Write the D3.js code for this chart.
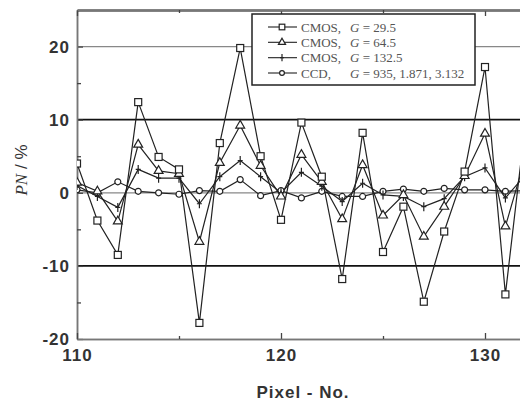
<!DOCTYPE html>
<html>
<head>
<meta charset="utf-8">
<script src="https://cdn.jsdelivr.net/npm/d3@7"></script>
<style>
  body { margin: 0; background: #fff; }
  .tick-label { font-family: "Liberation Sans", Arial, sans-serif; font-weight: bold; font-size: 17px; fill: #333; letter-spacing: 1px; }
  .legend-text { font-family: "Liberation Serif", "Times New Roman", serif; font-size: 13px; fill: #555; }
</style>
</head>
<body>
<div id="chart"></div>
<script>
// pixel numbers (x values)
var pixels = [110, 111, 112, 113, 114, 115, 116, 117, 118, 119, 120, 121,
  122, 123, 124, 125, 126, 127, 128, 129, 130, 131, 132];

// PN in % for each sensor / gain
var cmos29 = [4.0, -3.8, -8.5, 12.4, 4.9, 3.2, -17.8, 6.8, 19.8, 5.0, -3.7, 9.6,
  2.2, -11.8, 8.2, -8.1, -1.9, -14.9, -5.3, 2.9, 17.2, -13.9, 10.0];
var cmos64 = [1.4, 0.2, -3.9, 6.6, 3.0, 2.6, -6.7, 4.1, 9.2, 3.7, -0.5, 5.2,
  1.5, -3.6, 3.8, -3.1, -0.3, -6.0, -1.9, 2.3, 8.1, -4.6, 5.0];
var cmos132 = [1.0, -0.5, -2.0, 3.2, 2.0, 2.0, -1.5, 2.2, 4.4, 2.2, 0.0, 2.8,
  0.9, -1.2, 1.3, -0.3, -0.5, -1.9, -0.8, 2.2, 3.4, -0.7, 2.5];
var ccd = [0.4, 0.0, 1.5, 0.2, 0.0, -0.2, 0.3, 0.2, 1.8, -0.4, 0.3, -0.7,
  0.2, -0.5, -0.5, 0.2, 0.5, 0.2, 0.6, 0.4, 0.4, 0.2, 0.3];

// legend texts
var legendNames = ["CMOS,", "CMOS,", "CMOS,", "CCD,"];
var legendGains = ["29.5", "64.5", "132.5", "935, 1.871, 3.132"];
var markerTypes = ["square", "triangle", "plus", "circle"];

// tick values
var xTicks = [110, 120, 130];
var xMinor = [115, 125];
var yTicks = [-20, -10, 0, 10, 20];
var yMinor = [-15, -5, 5, 15];

var svgWidth = 520;
var svgHeight = 403;

var svg = d3.select("#chart")
  .append("svg")
  .attr("width", svgWidth)
  .attr("height", svgHeight);

// scales (the right side of the plot runs past the picture edge)
var x = d3.scaleLinear().domain([110, 132]).range([77, 525.8]);
var y = d3.scaleLinear().domain([-20, 25]).range([339, 10]);

// plain hyphen minus like the original
var plainFormat = d => String(d);

// horizontal grid lines
svg.append("g")
  .selectAll("line")
  .data([20, 10, 0, -10])
  .enter()
  .append("line")
  .attr("x1", x(110))
  .attr("x2", svgWidth)
  .attr("y1", d => y(d))
  .attr("y2", d => y(d))
  .attr("stroke", d => (d === 10 || d === -10) ? "#111" : "#888")
  .attr("stroke-width", d => (d === 10 || d === -10) ? 1.7 : 1.2);

// left axis, labels + inside ticks
var leftAxis = svg.append("g")
  .attr("transform", `translate(${x(110)},0)`)
  .call(d3.axisLeft(y).tickValues(yTicks).tickSize(-6).tickSizeOuter(0).tickPadding(7).tickFormat(plainFormat));
svg.append("g")
  .attr("transform", `translate(${x(110)},0)`)
  .call(d3.axisLeft(y).tickValues(yMinor).tickSize(-4).tickSizeOuter(0).tickFormat(""));

// bottom axis
var bottomAxis = svg.append("g")
  .attr("transform", `translate(0,${y(-20)})`)
  .call(d3.axisBottom(x).tickValues(xTicks).tickSize(-6).tickSizeOuter(0).tickPadding(10).tickFormat(plainFormat));
svg.append("g")
  .attr("transform", `translate(0,${y(-20)})`)
  .call(d3.axisBottom(x).tickValues(xMinor).tickSize(-3).tickSizeOuter(0).tickFormat(""));

// top axis, ticks only
var topAxis = svg.append("g")
  .attr("transform", `translate(0,${y(25)})`)
  .call(d3.axisTop(x).tickValues(xTicks).tickSize(-6).tickSizeOuter(0).tickFormat(""));
svg.append("g")
  .attr("transform", `translate(0,${y(25)})`)
  .call(d3.axisTop(x).tickValues(xMinor).tickSize(-3).tickSizeOuter(0).tickFormat(""));

svg.selectAll(".tick line").attr("stroke", "#444").attr("stroke-width", 1.3);
svg.selectAll(".domain").attr("stroke", "#777").attr("stroke-width", 1.5);
topAxis.select(".domain").attr("stroke", "#111").attr("stroke-width", 2.2);
svg.selectAll(".tick text")
  .attr("class", "tick-label")
  .attr("font-size", null)
  .attr("font-family", null);

// clip so the lines stop at the frame
svg.append("clipPath")
  .attr("id", "plot-clip")
  .append("rect")
  .attr("x", x(110))
  .attr("y", y(25))
  .attr("width", svgWidth - x(110))
  .attr("height", y(-20) - y(25));

var series = [cmos29, cmos64, cmos132, ccd];

// marker drawing
function drawMarker(sel, type, s) {
  s = s || 1;
  if (type === "square") {
    sel.append("rect")
      .attr("x", -3.5 * s).attr("y", -3.5 * s)
      .attr("width", 7 * s).attr("height", 7 * s)
      .attr("fill", "#fff").attr("stroke", "#222").attr("stroke-width", 1.2);
  } else if (type === "triangle") {
    sel.append("path")
      .attr("d", d3.symbol(d3.symbolTriangle, 34 * s * s)())
      .attr("fill", "#fff").attr("stroke", "#222").attr("stroke-width", 1.2);
  } else if (type === "plus") {
    sel.append("path")
      .attr("d", `M0,${-4.5 * s}V${4.5 * s}M${-2.5 * s},0H${2.5 * s}`)
      .attr("fill", "none").attr("stroke", "#222").attr("stroke-width", 1.2);
  } else {
    sel.append("circle")
      .attr("r", 3 * s)
      .attr("fill", "#fff").attr("stroke", "#222").attr("stroke-width", 1.2);
  }
}

var line = d3.line()
  .x((d, i) => x(pixels[i]))
  .y(d => y(d));

var plot = svg.append("g").attr("clip-path", "url(#plot-clip)");

// draw lines first, then markers on top
series.forEach(function(values) {
  plot.append("path")
    .datum(values)
    .attr("d", line)
    .attr("fill", "none")
    .attr("stroke", "#222")
    .attr("stroke-width", 1.2);
});

series.slice().reverse().forEach(function(values, j) {
  var type = markerTypes[series.length - 1 - j];
  plot.selectAll(null)
    .data(values)
    .enter()
    .append("g")
    .attr("transform", (d, i) => `translate(${x(pixels[i])},${y(d)})`)
    .each(function() { drawMarker(d3.select(this), type); });
});

// legend box
var legend = svg.append("g");
legend.append("rect")
  .attr("x", 252).attr("y", 14)
  .attr("width", 223).attr("height", 71)
  .attr("fill", "#fff")
  .attr("stroke", "#222")
  .attr("stroke-width", 1.5);

var rowY = d3.scalePoint().domain(d3.range(4)).range([27, 73]);

legendNames.forEach(function(name, i) {
  var ry = rowY(i);
  legend.append("line")
    .attr("x1", 268).attr("x2", 297)
    .attr("y1", ry).attr("y2", ry)
    .attr("stroke", "#333").attr("stroke-width", 1.2);
  var m = legend.append("g").attr("transform", `translate(282,${ry})`);
  drawMarker(m, markerTypes[i], 0.8);
  legend.append("text")
    .attr("class", "legend-text")
    .attr("x", 301).attr("y", ry + 4.5)
    .text(name);
  var g = legend.append("text")
    .attr("class", "legend-text")
    .attr("x", 350).attr("y", ry + 4.5);
  g.append("tspan").attr("font-style", "italic").text("G");
  g.append("tspan").text(" = " + legendGains[i]);
});

// axis titles
svg.append("text")
  .attr("x", 303)
  .attr("y", 398)
  .attr("text-anchor", "middle")
  .attr("font-family", "Liberation Sans, Arial, sans-serif")
  .attr("font-weight", "bold")
  .attr("font-size", "17px")
  .attr("letter-spacing", "1px")
  .attr("fill", "#333")
  .text("Pixel - No.");

var yTitle = svg.append("text")
  .attr("transform", "translate(27,170) rotate(-90)")
  .attr("text-anchor", "middle")
  .attr("font-size", "17px")
  .attr("fill", "#333");
yTitle.append("tspan")
  .attr("font-family", "Liberation Serif, serif")
  .attr("font-style", "italic")
  .text("PN");
yTitle.append("tspan")
  .attr("font-family", "Liberation Sans, Arial, sans-serif")
  .text(" / %");
</script>
</body>
</html>
